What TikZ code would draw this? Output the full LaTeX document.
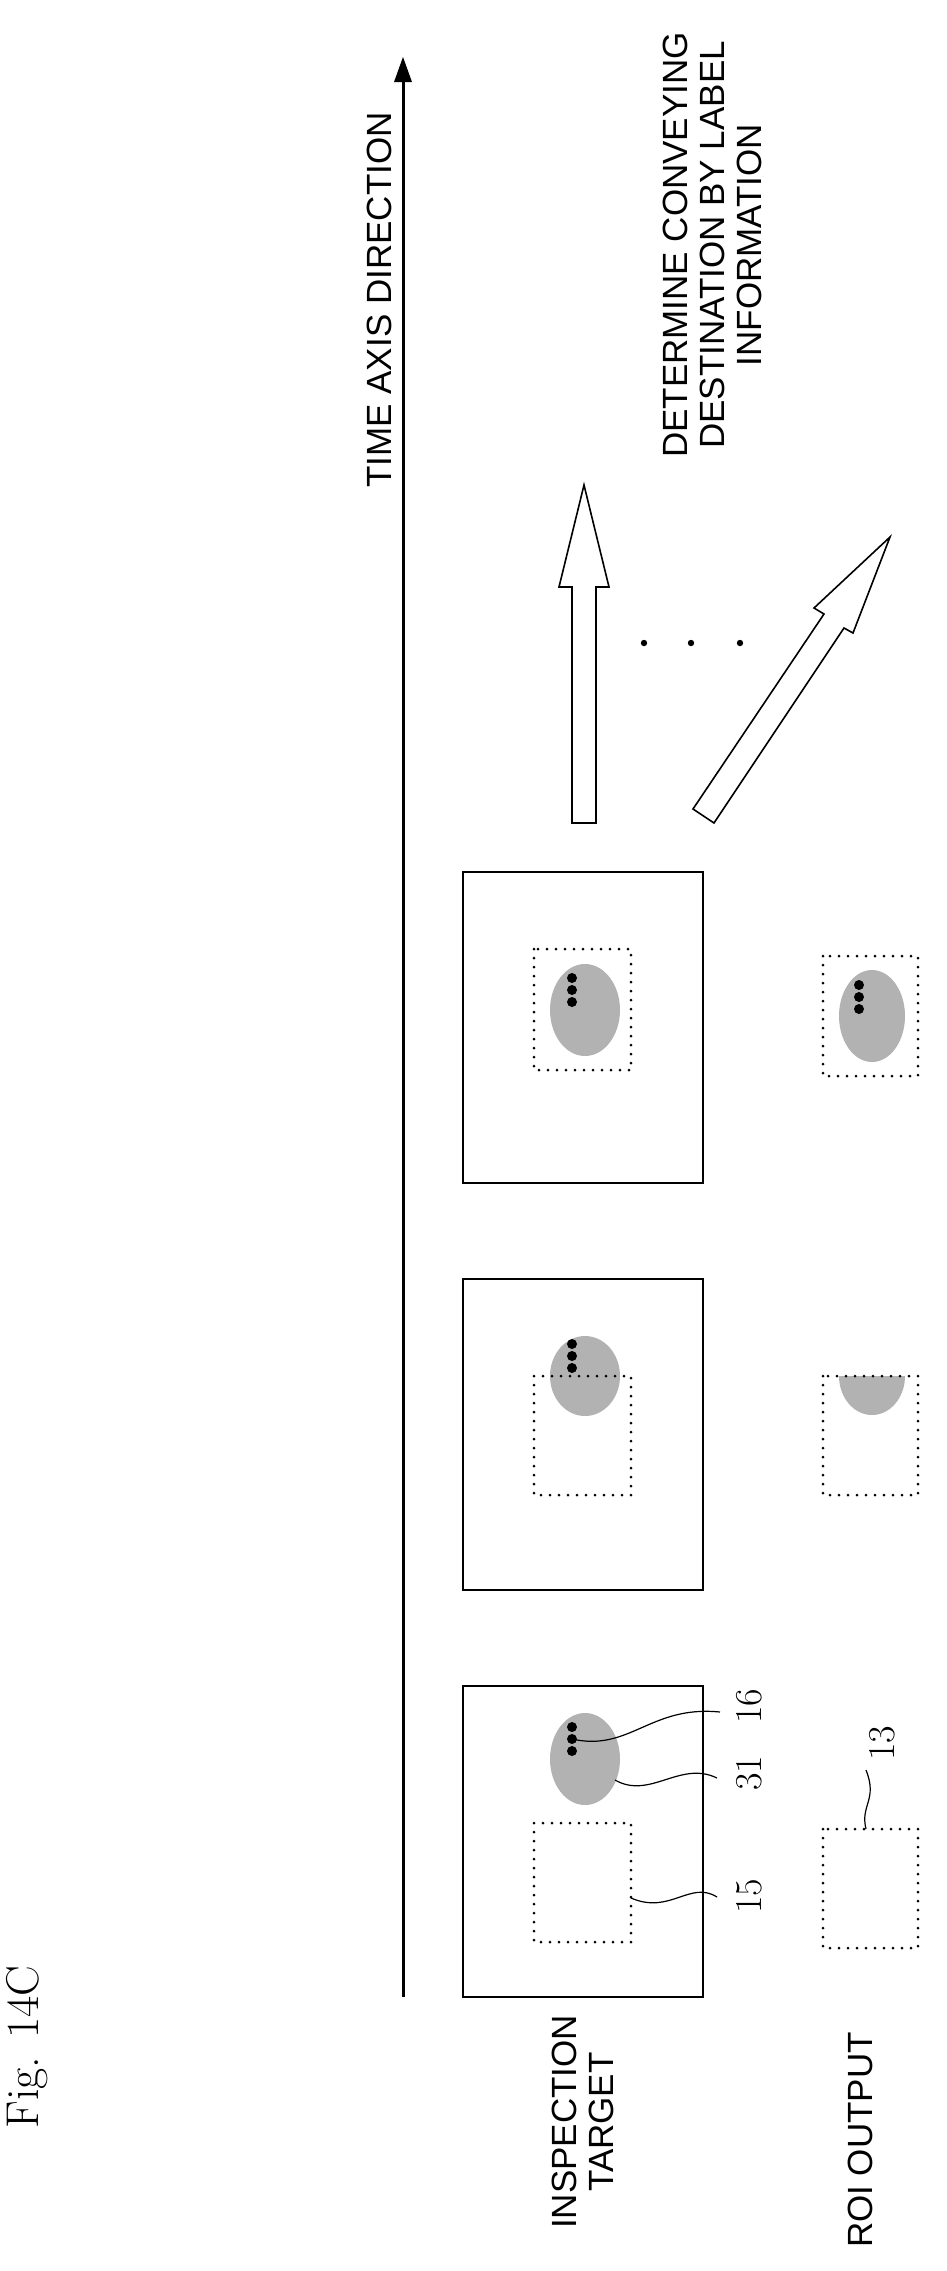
\documentclass[tikz,border=0pt]{standalone}
\usepackage{fontspec}
\setsansfont{Liberation Sans}
\begin{document}
\begin{tikzpicture}[x=1pt,y=-1pt,
  frame/.style={draw,line width=1.6pt},
  roi/.style={draw,line width=3pt,line cap=round,dash pattern=on 0pt off 9pt},
  blob/.style={fill=black!30},
  dotmark/.style={fill=black},
  lead/.style={line width=1.2pt},
  hollow/.style={draw,line width=1.6pt,fill=white,line join=miter},
  captxt/.style={font=\sffamily\fontsize{35}{37}\selectfont,rotate=90,align=center,inner sep=0pt},
  num/.style={font=\fontsize{38}{40}\selectfont,rotate=90,inner sep=0pt}]
\useasboundingbox (0,0) rectangle (946,2271);
% title
\node[rotate=90,font=\fontsize{46}{48}\selectfont,inner sep=0pt] (fig) at (27,2047) {Fig. 14C};
% time axis
\coordinate (axB) at (403,1997);
\coordinate (axT) at (403,57);
\draw[line width=3pt] (axB) -- (403,80);
\fill (axT) -- (412,82) -- (394,82) -- cycle;
\node[captxt] (tad) at (379,300) {TIME AXIS DIRECTION};
\node[captxt] (det) at (712,245) {DETERMINE CONVEYING\\DESTINATION BY LABEL\\INFORMATION};
% hollow arrows
\draw[hollow] (572,823) -- (572,587) -- (559,587) -- (584,485) -- (609,587) -- (596,587) -- (596,823) -- cycle;
\draw[hollow] (693,809) -- (824,614) -- (814,608) -- (890,537) -- (853,633) -- (844,628) -- (714,823) -- cycle;
\fill (644,643) circle (3.2) (691,643) circle (3.2) (740,643) circle (3.2);
% frames
\node[frame,minimum width=240pt,minimum height=311pt,inner sep=0pt] (f3) at (583,1027.5) {};
\node[frame,minimum width=240pt,minimum height=311pt,inner sep=0pt] (f2) at (583,1434.5) {};
\node[frame,minimum width=240pt,minimum height=311pt,inner sep=0pt] (f1) at (583,1841.5) {};
% frame 3
\fill[blob] (585,1010) ellipse (35 and 46);
\fill[dotmark] (572,978) circle (5) (572,990) circle (5) (572,1002) circle (5);
\draw[roi] (534,949) rectangle (631,1070);
% frame 2
\fill[blob] (585,1376) ellipse (35 and 40);
\fill[dotmark] (572,1344) circle (5) (572,1356) circle (5) (572,1368) circle (5);
\draw[roi] (534,1376) rectangle (631,1495);
% frame 1
\fill[blob] (585,1759) ellipse (35 and 46);
\fill[dotmark] (572,1727) circle (5) (572,1739) circle (5) (572,1751) circle (5);
\draw[roi] (534,1823) rectangle (631,1942);
% ROI outputs
\begin{scope}
\clip (823,956) rectangle (918,1076);
\fill[blob] (872,1016) ellipse (33 and 46);
\end{scope}
\fill[dotmark] (859,985) circle (5) (859,997) circle (5) (859,1009) circle (5);
\draw[roi] (823,956) rectangle (918,1076);
\begin{scope}
\clip (823,1376) rectangle (918,1495);
\fill[blob] (872,1376) ellipse (33 and 39);
\end{scope}
\draw[roi] (823,1376) rectangle (918,1495);
\draw[roi] (823,1829) rectangle (918,1948);
% labels
\node[num] (l16) at (749,1706) {16};
\node[num] (l31) at (749,1773) {31};
\node[num] (l15) at (749,1896) {15};
\node[num] (l13) at (882,1743) {13};
\coordinate (e16) at (572,1739);
\coordinate (e31) at (615,1780);
\coordinate (e15) at (631,1898);
\coordinate (e13) at (866,1829);
\draw[lead] (e16) .. controls (630,1752) and (650,1705) .. (720,1712);
\draw[lead] (e31) .. controls (650,1800) and (680,1760) .. (717,1778);
\draw[lead] (e15) .. controls (670,1915) and (690,1880) .. (717,1897);
\draw[lead] (e13) .. controls (860,1805) and (878,1800) .. (866,1770);
% row labels
\node[captxt] (it) at (583,2122) {INSPECTION\\TARGET};
\node[captxt] (ro) at (860,2140) {ROI OUTPUT};
\end{tikzpicture}
\end{document}
